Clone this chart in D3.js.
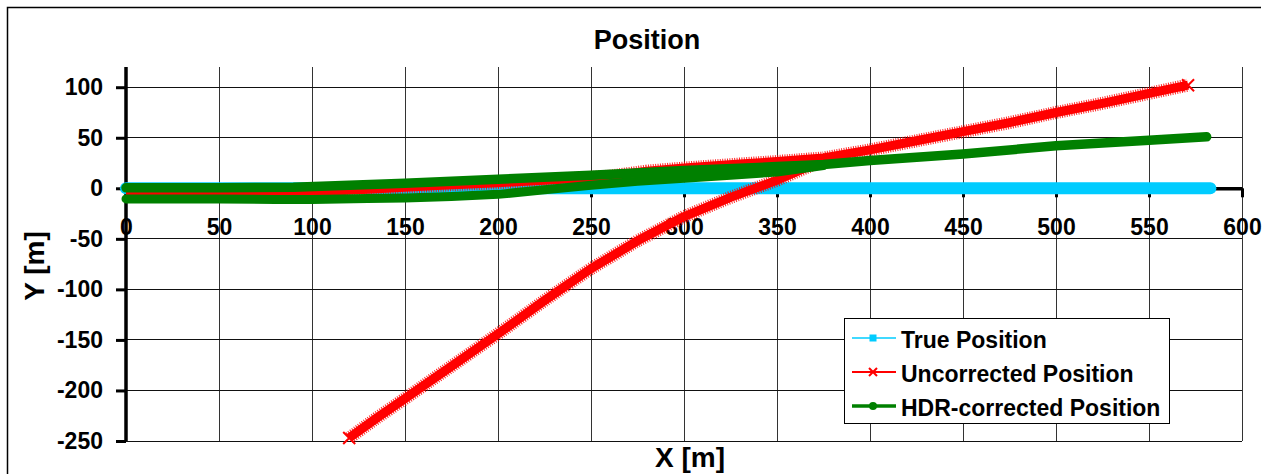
<!DOCTYPE html>
<html>
<head>
<meta charset="utf-8">
<script src="https://cdn.jsdelivr.net/npm/d3@7"></script>
<style>
body { margin: 0; background: #fff; }
svg { display: block; font-family: "Liberation Sans", Arial, sans-serif; font-weight: bold; }
</style>
</head>
<body>
<script>
// values

const xTicks = [0, 50, 100, 150, 200, 250, 300, 350, 400, 450, 500, 550, 600]
const yTicks = [-250, -200, -150, -100, -50, 0, 50, 100]

const trueX = [0, 50, 100, 150, 200, 250, 300, 350, 400, 450, 500, 550, 583]
const trueY = [0, 0, 0, 0, 0, 0, 0, 0, 0, 0, 0, 0, 0]

// uncorrected: the outbound branch and the branch that runs down to the bottom
const uncorrUpperX = [0, 40, 80, 110, 140, 170, 200, 230, 260, 280, 300, 330, 350, 375, 400, 425, 450, 475, 500, 525, 550, 571]
const uncorrUpperY = [-3.5, -4, -4.5, -3, 0, 3, 5.5, 8.5, 12, 17, 20, 24, 26.5, 30, 38, 47, 56, 65, 75, 84, 94, 102]
const uncorrLowerX = [120, 135, 150, 175, 200, 225, 250, 275, 300, 325, 350, 365, 378]
const uncorrLowerY = [-247, -227, -208, -176, -144, -111, -79.5, -52, -28, -9, 8, 20, 30]

// HDR-corrected
const hdrUpperX = [0, 50, 90, 120, 150, 200, 250, 300, 350, 375, 400, 450, 500, 550, 581]
const hdrUpperY = [0.5, 0.5, 1, 3, 5, 9, 13, 17.5, 21.5, 23.5, 27.5, 34, 42, 47.5, 51]
const hdrLowerX = [0, 50, 80, 100, 130, 150, 175, 200, 225, 250, 275, 300, 325, 350, 375]
const hdrLowerY = [-10.5, -10.5, -11, -11, -10, -9.5, -8, -6, -1.5, 3, 7, 10, 13, 16, 22.5]

const seriesNames = ["True Position", "Uncorrected Position", "HDR-corrected Position"]

const svgWidth = 1270
const svgHeight = 474

const cyan = "#00ccff"
const red = "#ff0000"
const green = "#008000"

const zip = (xs, ys) => xs.map((x, i) => [x, ys[i]])

let svg = d3.select("body")
    .append("svg")
    .attr("width", svgWidth)
    .attr("height", svgHeight)

// outer chart frame (only top and left show inside the window)
svg.append("path")
    .attr("d", "M7.5,474 V7.5 H1261")
    .attr("fill", "none")
    .attr("stroke", "#000")
    .attr("stroke-width", 1.5)

let xScale = d3.scaleLinear()
    .domain([0, 600])
    .range([126, 1242])

let yScale = d3.scaleLinear()
    .domain([-250, 120])
    .range([441, 67])

// grid
let grid = svg.append("g")
    .attr("shape-rendering", "crispEdges")

grid.selectAll(".vgrid")
    .data(xTicks)
    .enter()
    .append("line")
    .attr("x1", d => xScale(d))
    .attr("x2", d => xScale(d))
    .attr("y1", yScale(120))
    .attr("y2", yScale(-250))
    .attr("stroke", "#333")
    .attr("stroke-width", 1)

grid.selectAll(".hgrid")
    .data(yTicks)
    .enter()
    .append("line")
    .attr("x1", xScale(0))
    .attr("x2", xScale(600))
    .attr("y1", d => yScale(d))
    .attr("y2", d => yScale(d))
    .attr("stroke", "#111")
    .attr("stroke-width", 1)

// axes
let leftAxis = d3.axisLeft(yScale)
    .tickValues(yTicks)
    .tickFormat(d => String(d))
    .tickSize(10)
    .tickSizeOuter(0)
    .tickPadding(13)

let yAxis = svg.append("g")
    .attr("transform", `translate(${xScale(0)}, 0)`)
    .call(leftAxis)

yAxis.select("path")
    .attr("d", `M0,${yScale(120)}V${yScale(-250)}`)
    .style("stroke", "#000")
    .style("stroke-width", 3.5)

yAxis.selectAll("line")
    .style("stroke", "#000")
    .style("stroke-width", 3)

yAxis.selectAll("text")
    .style("font-size", "23px")
    .style("font-family", "Liberation Sans, Arial, sans-serif")
    .style("font-weight", "bold")
    .attr("fill", "#000")

let bottomAxis = d3.axisBottom(xScale)
    .tickValues(xTicks)
    .tickFormat(d => String(d))
    .tickSize(9)
    .tickSizeOuter(0)

let xAxis = svg.append("g")
    .attr("transform", `translate(0, ${yScale(0)})`)
    .call(bottomAxis)

xAxis.select("path")
    .style("stroke", "#000")
    .style("stroke-width", 3.5)

xAxis.selectAll("line")
    .style("stroke", "#000")
    .style("stroke-width", 3)

xAxis.selectAll("text")
    .attr("y", 0)
    .attr("dy", 0)
    .attr("transform", "translate(0, 47)")
    .style("font-size", "23px")
    .style("font-family", "Liberation Sans, Arial, sans-serif")
    .style("font-weight", "bold")
    .attr("fill", "#000")

// series
let line = d3.line()
    .x(d => xScale(d[0]))
    .y(d => yScale(d[1]))

let plot = svg.append("g")

plot.append("path")
    .datum(zip(trueX, trueY))
    .attr("d", line)
    .attr("fill", "none")
    .attr("stroke", cyan)
    .attr("stroke-width", 12)
    .attr("stroke-linecap", "round")

let redBranches = [zip(uncorrUpperX, uncorrUpperY), zip(uncorrLowerX, uncorrLowerY)]

redBranches.forEach(pts => {
    plot.append("path")
        .datum(pts)
        .attr("d", line)
        .attr("fill", "none")
        .attr("stroke", red)
        .attr("stroke-width", 9)
        .attr("stroke-linejoin", "round")
    // serrated edge of the densely packed x markers
    plot.append("path")
        .datum(pts)
        .attr("d", line)
        .attr("fill", "none")
        .attr("stroke", red)
        .attr("stroke-width", 13)
        .attr("stroke-dasharray", "1 1.4")
        .attr("opacity", 0.85)
})

let xMark = (g, cx, cy, s) => {
    g.append("path")
        .attr("d", `M${cx - s},${cy - s}L${cx + s},${cy + s}M${cx - s},${cy + s}L${cx + s},${cy - s}`)
        .attr("stroke", red)
        .attr("stroke-width", 2)
}
xMark(plot, xScale(uncorrUpperX[uncorrUpperX.length - 1]), yScale(uncorrUpperY[uncorrUpperY.length - 1]), 6)
xMark(plot, xScale(uncorrLowerX[0]), yScale(uncorrLowerY[0]), 6)

let greenBranches = [zip(hdrUpperX, hdrUpperY), zip(hdrLowerX, hdrLowerY)]
let greenWidths = [9.5, 9]

greenBranches.forEach((pts, i) => {
    plot.append("path")
        .datum(pts)
        .attr("d", line)
        .attr("fill", "none")
        .attr("stroke", green)
        .attr("stroke-width", greenWidths[i])
        .attr("stroke-linecap", "round")
        .attr("stroke-linejoin", "round")
})

// titles
svg.append("text")
    .attr("x", 647)
    .attr("y", 49)
    .attr("text-anchor", "middle")
    .style("font-size", "27px")
    .text("Position")

svg.append("text")
    .attr("x", 690)
    .attr("y", 467)
    .attr("text-anchor", "middle")
    .style("font-size", "28px")
    .text("X [m]")

svg.append("text")
    .attr("transform", "translate(44, 266) rotate(-90)")
    .attr("text-anchor", "middle")
    .style("font-size", "28px")
    .text("Y [m]")

// legend
let legend = svg.append("g")

legend.append("rect")
    .attr("x", 844.5)
    .attr("y", 318.5)
    .attr("width", 325)
    .attr("height", 105)
    .attr("fill", "#fff")
    .attr("stroke", "#000")
    .attr("stroke-width", 1)

let legendRows = [338, 372, 406]
let legendColors = [cyan, red, green]
let legendWidths = [1.5, 2, 3.5]

seriesNames.forEach((name, i) => {
    let ly = legendRows[i]
    legend.append("line")
        .attr("x1", 852)
        .attr("x2", 896)
        .attr("y1", ly)
        .attr("y2", ly)
        .attr("stroke", legendColors[i])
        .attr("stroke-width", legendWidths[i])
    legend.append("text")
        .attr("x", 901)
        .attr("y", ly + 10)
        .style("font-size", "23px")
        .text(name)
})

legend.append("rect")
    .attr("x", 869.5)
    .attr("y", 334.5)
    .attr("width", 7)
    .attr("height", 7)
    .attr("fill", cyan)

xMark(legend, 873, 372, 4)

legend.append("circle")
    .attr("cx", 873)
    .attr("cy", 406)
    .attr("r", 4)
    .attr("fill", green)
</script>
</body>
</html>
